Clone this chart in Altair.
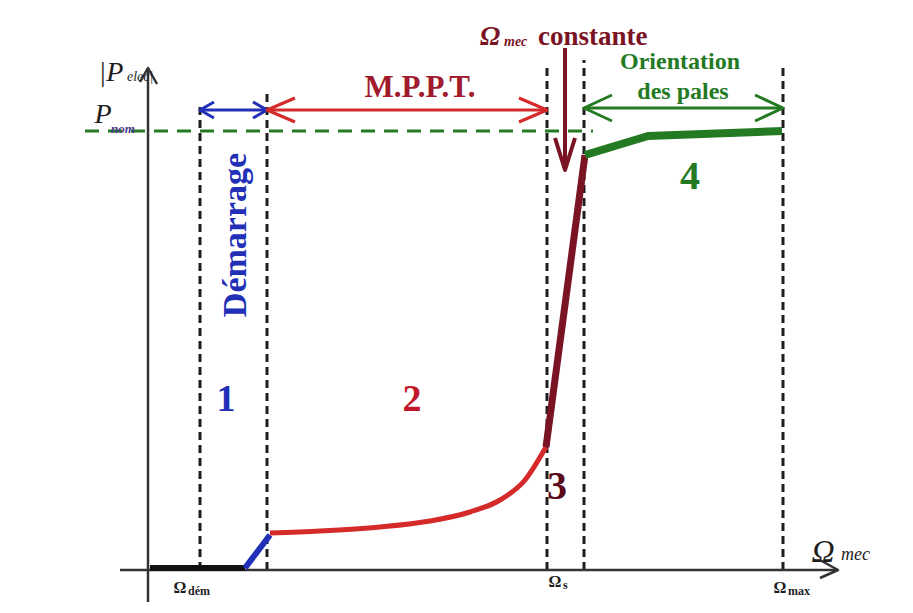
import altair as alt
import pandas as pd

# ---- data (schematic units: origin at the axes crossing) ----
omega_marks = [52, 119, 399, 436, 635]          # Ω_dém, end of start-up, Ω_s, end of zone 3, Ω_max
omega_tops = [463, 477, 503, 510, 505]
p_nom = 439

black_x = [2, 97];   black_y = [2, 2]
blue_x = [97, 122];  blue_y = [2, 35]
red_x = [122, 172, 232, 282, 322, 352, 377, 398]
red_y = [37, 39, 43, 49, 58, 70, 90, 123]
dred_x = [398, 437]; dred_y = [123, 415]
green_x = [437, 500, 634]; green_y = [415, 434, 439]

XS = alt.Scale(domain=[-140, 757], nice=False, zero=False)
YS = alt.Scale(domain=[-35, 562], nice=False, zero=False)


def lines(segs, color, width, dash=None, cap="butt", interp="linear"):
    rows = []
    for s, (xs, ys) in enumerate(segs):
        for i, (a, b) in enumerate(zip(xs, ys)):
            rows.append({"x": a, "y": b, "seg": s, "i": i})
    kw = dict(color=color, strokeWidth=width, strokeCap=cap, strokeJoin="round", interpolate=interp)
    if dash:
        kw["strokeDash"] = dash
    return alt.Chart(pd.DataFrame(rows)).mark_line(**kw).encode(
        x=alt.X("x:Q", scale=XS, axis=None),
        y=alt.Y("y:Q", scale=YS, axis=None),
        detail="seg:N", order="i:Q")


def texts(items, color, size, weight="normal", style="normal", align="center", angle=0, font="Liberation Serif"):
    df = pd.DataFrame(items, columns=["x", "y", "t"])
    return alt.Chart(df).mark_text(color=color, fontSize=size, fontWeight=weight, fontStyle=style,
                                   align=align, baseline="middle", angle=angle, font=font).encode(
        x=alt.X("x:Q", scale=XS, axis=None),
        y=alt.Y("y:Q", scale=YS, axis=None),
        text="t:N")


def dbl_arrow(x0, x1, y, w, h):
    return [([x0, x1], [y, y]),
            ([x0 + w, x0, x0 + w], [y + h, y, y - h]),
            ([x1 - w, x1, x1 - w], [y + h, y, y - h])]


BLACK = "#1e1e1e"
BLUE = "#2230b8"
RED = "#d42a2a"
DRED = "#7a1424"
GREEN = "#237a23"

layers = [
    # dashed verticals
    lines([([x, x], [0, t]) for x, t in zip(omega_marks, omega_tops)], BLACK, 3, [8, 5]),
    # P_nom dashed
    lines([([-63, 445], [p_nom, p_nom])], GREEN, 3, [14, 9]),
    # axes
    lines([([0, 0], [-32, 502]), ([-8, 0, 9], [488, 502, 486]),
           ([-28, 690], [0, 0]), ([672, 690, 672], [10, 0, -8])], "#333333", 2.5),
    # curve
    lines([(black_x, black_y)], "#111111", 6),
    lines([(blue_x, blue_y)], BLUE, 6),
    lines([(red_x, red_y)], RED, 5, interp="monotone"),
    lines([(dred_x, dred_y)], DRED, 7),
    lines([(green_x, green_y)], GREEN, 8),
    # range arrows
    lines(dbl_arrow(omega_marks[0], omega_marks[1], 460, 14, 8), BLUE, 3),
    lines(dbl_arrow(omega_marks[1], omega_marks[2], 460, 28, 12), RED, 3),
    lines(dbl_arrow(omega_marks[3], omega_marks[4], 462, 28, 13), GREEN, 3),
    lines([([417, 417], [522, 402]), ([407, 417, 427], [432, 400, 432])], DRED, 4),
    # labels
    texts([(-37, 497, "|P")], BLACK, 28, style="italic"),
    texts([(-21, 493, "elec|")], BLACK, 14, style="italic", align="left"),
    texts([(-45, 455, "P")], BLACK, 28, style="italic"),
    texts([(-37, 441, "nom")], "#4a3a8a", 13, style="italic", weight="bold", align="left"),
    texts([(272, 482, "M.P.P.T.")], "#a01c2c", 31, weight="bold"),
    texts([(342, 533, "Ω")], DRED, 27, style="italic", weight="bold"),
    texts([(356, 528, "mec")], DRED, 14, style="italic", weight="bold", align="left"),
    texts([(390, 533, "constante")], DRED, 27, weight="bold", align="left"),
    texts([(532, 508, "Orientation"), (535, 478, "des pales")], GREEN, 24, weight="bold"),
    texts([(88, 335, "Démarrage")], BLUE, 34, weight="bold", angle=270),
    texts([(78, 170, "1")], BLUE, 38, weight="bold"),
    texts([(264, 170, "2")], "#c0182a", 38, weight="bold"),
    texts([(409, 83, "3")], "#5a0a18", 40, weight="bold"),
    texts([(542, 393, "4")], GREEN, 40, weight="bold"),
    texts([(32, -18, "Ω"), (407, -12, "Ω"), (632, -18, "Ω")], BLACK, 16, weight="bold"),
    texts([(40, -21, "dém"), (415, -15, "s"), (640, -21, "max")], BLACK, 12, weight="bold", align="left"),
    texts([(675, 18, "Ω")], BLACK, 32, style="italic"),
    texts([(693, 15, "mec")], BLACK, 18, style="italic", align="left"),
]

chart = alt.layer(*layers).properties(
    width=897, height=597,
    autosize=alt.AutoSizeParams(type="none"),
    padding=0,
    background="white",
).configure_view(stroke=None)

chart.save("out.html", embed_options={"renderer": "svg", "actions": False})
